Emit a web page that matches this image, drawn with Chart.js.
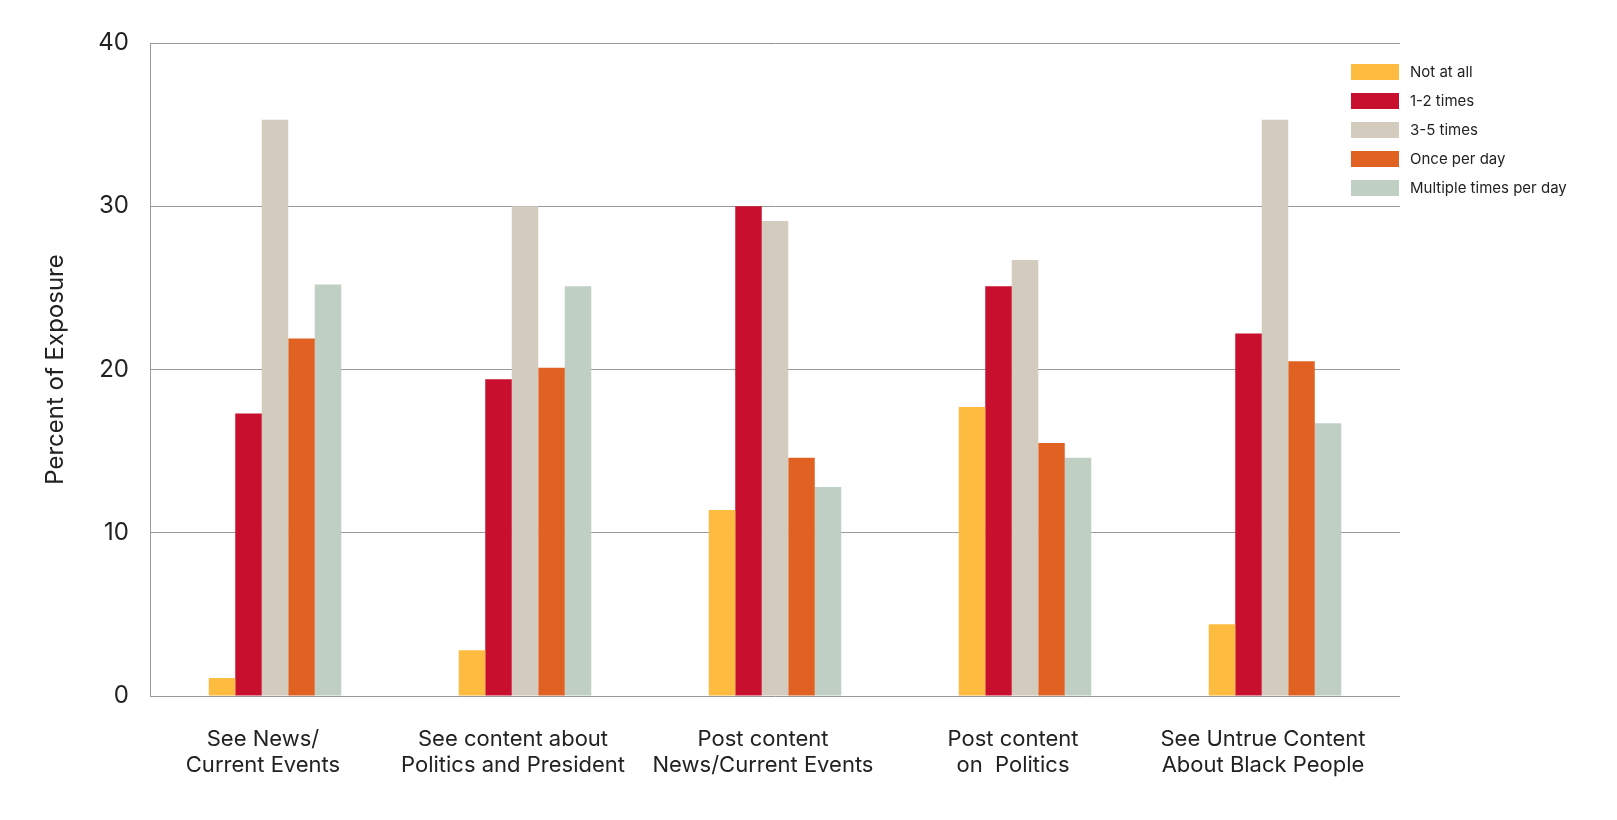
<!DOCTYPE html>
<html>
<head>
<meta charset="utf-8">
<title>Percent of Exposure</title>
<script src="https://cdn.jsdelivr.net/npm/chart.js@4.4.1/dist/chart.umd.min.js"></script>
<style>
    body { margin: 0; background: #fff; font-family: Inter, sans-serif; }
    #wrap { position: relative; width: 1617px; height: 820px; }
    #legend { position: absolute; left: 1351px; top: 57px; }
    .legend-item { display: flex; align-items: center; height: 29px; font-size: 15px; color: #222; }
    .legend-swatch { width: 48px; height: 16px; margin-right: 11px; }
</style>
</head>
<body>
<div id="wrap">
    <canvas id="exposureChart"></canvas>
    <div id="legend"></div>
</div>
<script>
// chart data
const categories = [
    ['See News/', 'Current Events'],
    ['See content about', 'Politics and President'],
    ['Post content', 'News/Current Events'],
    ['Post content', 'on  Politics'],
    ['See Untrue Content', 'About Black People']
];
const seriesNames = ['Not at all', '1-2 times', '3-5 times', 'Once per day', 'Multiple times per day'];
const notAtAll = [1.1, 2.8, 11.4, 17.7, 4.4];
const oneToTwo = [17.3, 19.4, 30.0, 25.1, 22.2];
const threeToFive = [35.3, 30.0, 29.1, 26.7, 35.3];
const oncePerDay = [21.9, 20.1, 14.6, 15.5, 20.5];
const multiplePerDay = [25.2, 25.1, 12.8, 14.6, 16.7];
const yTicks = [0, 10, 20, 30, 40];

const seriesValues = [notAtAll, oneToTwo, threeToFive, oncePerDay, multiplePerDay];
const seriesColors = ['#FDBC40', '#C8102E', '#D2CBBE', '#E06121', '#BFCFC4'];

document.addEventListener('DOMContentLoaded', function() {
    const ctx = document.getElementById('exposureChart').getContext('2d');
    const gridColor = '#9a9a9a';

    const exposureChart = new Chart(ctx, {
        type: 'bar',
        data: {
            labels: categories,
            datasets: seriesNames.map(function(name, i) {
                return {
                    label: name,
                    data: seriesValues[i],
                    backgroundColor: seriesColors[i],
                    categoryPercentage: 0.53,
                    barPercentage: 1.0
                };
            })
        },
        options: {
            responsive: true,
            maintainAspectRatio: false,
            animation: false,
            layout: {
                padding: { top: 43, right: 217, bottom: 24, left: 0 }
            },
            scales: {
                x: {
                    grid: { display: false, drawTicks: false },
                    border: { display: false },
                    ticks: {
                        color: '#222',
                        font: { family: 'Inter', size: 22, lineHeight: 1.15 },
                        padding: 31,
                        labelOffset: -12,
                        maxRotation: 0,
                        autoSkip: false
                    },
                    afterFit: function(scale) { scale.height = 100; }
                },
                y: {
                    min: yTicks[0],
                    max: yTicks[yTicks.length - 1],
                    afterBuildTicks: function(scale) {
                        scale.ticks = yTicks.map(function(v) { return { value: v }; });
                    },
                    grid: { color: gridColor, lineWidth: 1, drawTicks: false },
                    border: { display: true, color: gridColor, width: 1 },
                    ticks: {
                        color: '#222',
                        font: { family: 'Inter', size: 24 },
                        padding: 21
                    },
                    title: {
                        display: true,
                        text: 'Percent of Exposure',
                        color: '#222',
                        font: { family: 'Inter', size: 24 },
                        padding: { top: 41, bottom: 0 }
                    },
                    afterFit: function(scale) { scale.width = 150; }
                }
            },
            plugins: {
                legend: { display: false },
                tooltip: { enabled: false }
            }
        }
    });

    // Legend on the right, built from the datasets
    const legend = document.getElementById('legend');
    exposureChart.data.datasets.forEach(function(ds) {
        const item = document.createElement('div');
        item.className = 'legend-item';
        item.innerHTML = '<span class="legend-swatch" style="background:' + ds.backgroundColor + '"></span>' + ds.label;
        legend.appendChild(item);
    });
});
</script>
</body>
</html>
